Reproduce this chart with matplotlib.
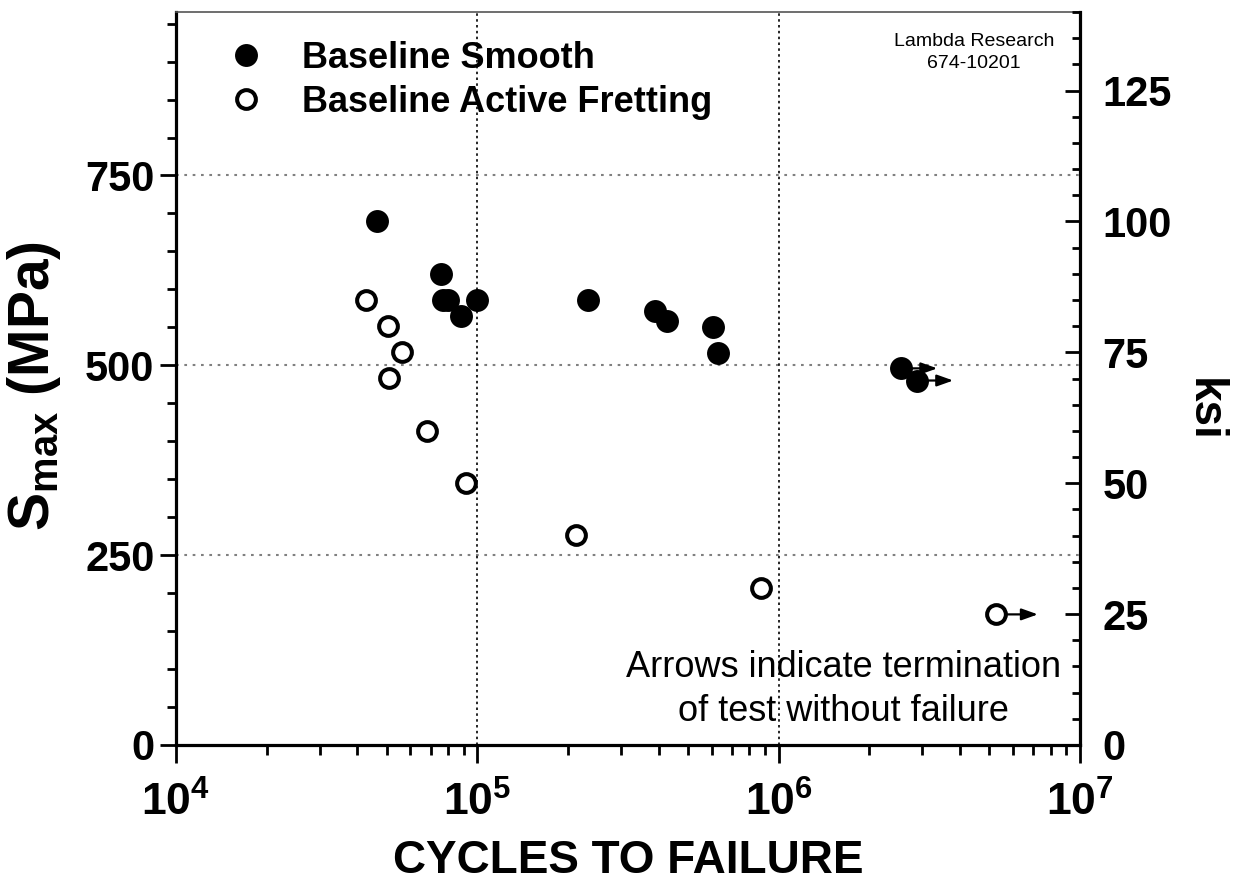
import numpy as np
import matplotlib
matplotlib.use("Agg")
import matplotlib.pyplot as plt
from matplotlib.ticker import MultipleLocator, LogLocator, FuncFormatter, NullFormatter
from matplotlib.transforms import offset_copy

plt.rcParams['font.family'] = ['Liberation Sans', 'DejaVu Sans']
plt.rcParams['mathtext.fontset'] = 'custom'
plt.rcParams['mathtext.rm'] = 'Liberation Sans:bold'
plt.rcParams['mathtext.bf'] = 'Liberation Sans:bold'
plt.rcParams['mathtext.it'] = 'Liberation Sans:bold'

# Baseline smooth specimens (filled)
smooth_cycles = [46500, 75800, 77000, 80000, 88000, 100000, 233000,
                 390000, 425000, 605000, 630000, 2550000, 2880000]
smooth_mpa = [690, 620, 586, 586, 565, 586, 586, 571, 558, 550, 516, 496, 480]
smooth_runout = [False]*11 + [True, True]

# Baseline active fretting specimens (open)
fret_cycles = [42800, 50600, 56300, 50900, 68100, 91800, 213000, 875000, 5270000]
fret_mpa = [586, 552, 517, 483, 414, 345, 276, 207, 172]
fret_runout = [False]*8 + [True]

MPA_PER_KSI = 6.895
ksi_top = 140

fig = plt.figure(figsize=(12.36, 8.86), dpi=100)
ax = fig.add_axes([176/1236, 1-745/886, 904/1236, 733/886])
ax.set_xscale('log')
ax.set_xlim(1e4, 1e7)
ax.set_ylim(0, ksi_top*MPA_PER_KSI)

# grid
for v in [250, 500, 750]:
    ax.axhline(v, color='#808080', lw=1.5, ls=(0, (1.3, 2.7)), zorder=1)
for v in [1e5, 1e6]:
    ax.axvline(v, color='black', lw=1.2, ls=(0, (1.5, 2.0)), zorder=1)

# runout arrows
def runout_arrows(xs, ys, flags, length):
    for x, y, f in zip(xs, ys, flags):
        if not f:
            continue
        tip = offset_copy(ax.transData, fig=fig, x=length, y=0, units='points')
        ax.annotate('', xy=(x, y), xycoords=tip, xytext=(x, y), textcoords='data',
                    arrowprops=dict(arrowstyle='-|>,head_length=0.7,head_width=0.25',
                                    color='black', lw=1.6, mutation_scale=14,
                                    shrinkA=0, shrinkB=0), zorder=2)

runout_arrows(smooth_cycles, smooth_mpa, smooth_runout, 26)
runout_arrows(fret_cycles, fret_mpa, fret_runout, 30)

ax.plot(smooth_cycles, smooth_mpa, 'o', color='black', ms=16.5, mew=0,
        ls='none', label='Baseline Smooth', zorder=3)
ax.plot(fret_cycles, fret_mpa, 'o', mfc='white', mec='black', ms=13.5, mew=2.9,
        ls='none', label='Baseline Active Fretting', zorder=3)

# spines
for s in ['left', 'bottom']:
    ax.spines[s].set_linewidth(2.3)
ax.spines['right'].set_visible(False)
ax.spines['top'].set_linewidth(1.2)
ax.spines['top'].set_color('#555555')

ax.yaxis.set_major_locator(MultipleLocator(250))
ax.yaxis.set_minor_locator(MultipleLocator(50))
ax.tick_params(axis='y', which='major', direction='out', length=11.5, width=2.0,
               labelsize=30, pad=4)
ax.tick_params(axis='y', which='minor', direction='out', length=6.5, width=2.0)
ax.tick_params(axis='x', which='major', direction='out', length=13, width=2.0,
               labelsize=32, pad=13)
ax.tick_params(axis='x', which='minor', direction='out', length=7, width=2.0)
ax.xaxis.set_major_locator(LogLocator(base=10))
ax.xaxis.set_minor_locator(LogLocator(base=10, subs=np.arange(2, 10)))
ax.xaxis.set_minor_formatter(NullFormatter())
ax.xaxis.set_major_formatter(FuncFormatter(lambda v, p: r'$\mathbf{10^{%d}}$' % round(np.log10(v))))
for lab in ax.get_yticklabels():
    lab.set_fontweight('bold')

ax.set_xlabel('CYCLES TO FAILURE', fontsize=33, fontweight='bold')
ax.xaxis.label.set_va('baseline')
ax.xaxis.set_label_coords(0.5, -(873 - 745) / 733)
ax.set_ylabel(r'$\mathbf{S_{max}}$ (MPa)', fontsize=41, fontweight='bold')
ax.yaxis.set_label_coords(-0.125, 0.49)

# right ksi axis
ax2 = ax.twinx()
ax2.set_ylim(0, ksi_top)
ax2.spines['right'].set_linewidth(2.3)
ax2.spines['top'].set_visible(False)
ax2.spines['left'].set_visible(False)
ax2.spines['bottom'].set_visible(False)
ax2.yaxis.set_major_locator(MultipleLocator(25))
ax2.yaxis.set_minor_locator(MultipleLocator(5))
ax2.tick_params(axis='y', which='major', direction='in', length=11, width=2.0,
                labelsize=30, pad=16)
ax2.tick_params(axis='y', which='minor', direction='in', length=5.5, width=2.0)
for lab in ax2.get_yticklabels():
    lab.set_fontweight('bold')
ax2.set_ylabel('ksi', fontsize=33, fontweight='bold', rotation=-90, va='center')
ax2.yaxis.set_label_coords(1.137, 0.457)

leg = ax.legend(loc='upper left', bbox_to_anchor=(0.025, 1.0), frameon=False,
                prop={'size': 26, 'weight': 'bold'}, handlelength=1.0,
                handletextpad=1.05, labelspacing=0.25, borderaxespad=0.4)

ax.text(0.883, 0.945, 'Lambda Research\n674-10201', transform=ax.transAxes,
        ha='center', va='center', fontsize=14, multialignment='center',
        linespacing=1.4)
ax.text(0.738, 0.076, 'Arrows indicate termination\nof test without failure',
        transform=ax.transAxes, ha='center', va='center', fontsize=26,
        multialignment='center', linespacing=1.34)

fig.savefig('out.png', dpi=100)
